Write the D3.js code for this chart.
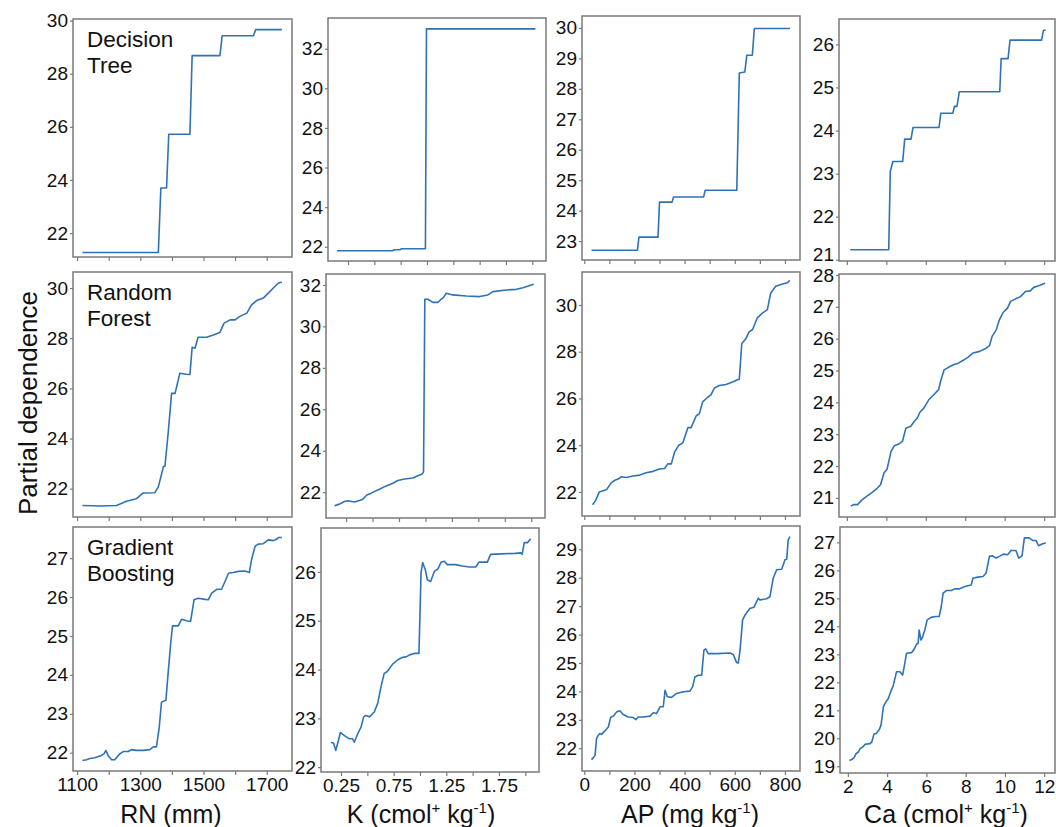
<!DOCTYPE html>
<html><head><meta charset="utf-8">
<script src="https://cdn.jsdelivr.net/npm/d3@7"></script>
<style>body{margin:0;background:#fff}svg{display:block;font-family:"Liberation Sans",Arial,sans-serif}</style>
</head><body><svg id="c" width="1056" height="827"></svg>
<script>
// ---------- categories / tick labels ----------
const models = [["Decision","Tree"],["Random","Forest"],["Gradient","Boosting"]];
const features = ["RN", "K", "AP", "Ca"];
const rnTicks = [1100,1200,1300,1400,1500,1600,1700];
const rnLabels = [1100,1300,1500,1700];
const kTicks = [0.25,0.5,0.75,1,1.25,1.5,1.75,2];
const kLabels = [0.25,0.75,1.25,1.75];
const apTicks = [0,100,200,300,400,500,600,700,800];
const apLabels = [0,200,400,600,800];
const caTicks = [2,4,6,8,10,12];
const caLabels = [2,4,6,8,10,12];

const yTicksDT = [[22,24,26,28,30],[22,24,26,28,30,32],[23,24,25,26,27,28,29,30],[21,22,23,24,25,26]];
const yTicksRF = [[22,24,26,28,30],[22,24,26,28,30,32],[22,24,26,28,30],[21,22,23,24,25,26,27,28]];
const yTicksGB = [[22,23,24,25,26,27],[22,23,24,25,26],[22,23,24,25,26,27,28,29],[19,20,21,22,23,24,25,26,27]];

// ---------- series: Decision Tree ----------
const rnX_dt = [1117,1357,1365,1383,1390,1457,1464,1552,1559,1658,1665,1748];
const rnY_dt = [21.27,21.27,23.7,23.7,25.72,25.72,28.68,28.68,29.43,29.43,29.66,29.66];
const kX_dt = [0.146,0.67,0.69,0.74,0.76,0.985,0.995,2.03];
const kY_dt = [21.8,21.8,21.85,21.85,21.9,21.9,33.0,33.0];
const apX_dt = [29,212,218,294,300,350,356,476,482,608,618,640,648,670,678,820];
const apY_dt = [22.7,22.7,23.13,23.13,24.28,24.28,24.45,24.45,24.67,24.67,28.52,28.55,29.1,29.1,29.98,29.98];
const caX_dt = [2.17,4.12,4.2,4.33,4.83,4.93,5.25,5.35,6.67,6.76,7.37,7.45,7.58,7.7,9.75,9.82,10.17,10.27,11.87,11.97,12.08];
const caY_dt = [21.23,21.23,23.05,23.28,23.28,23.8,23.8,24.07,24.07,24.4,24.4,24.56,24.56,24.9,24.9,25.67,25.67,26.1,26.1,26.33,26.33];

// ---------- series: Random Forest ----------
const rnX_rf = [1117,1172,1225,1256,1288,1309,1346,1357,1365,1373,1378,1388,1399,1410,1425,1446,1457,1464,1473,1483,1510,1531,1552,1565,1584,1600,1615,1637,1652,1668,1689,1705,1721,1737,1748];
const rnY_rf = [21.33,21.31,21.33,21.5,21.6,21.83,21.84,22.07,22.47,22.87,22.9,24.2,25.8,25.8,26.6,26.56,26.55,27.64,27.6,28.04,28.04,28.13,28.23,28.6,28.73,28.73,28.87,29.0,29.33,29.5,29.6,29.8,30.0,30.2,30.23];
const kX_rf = [0.14,0.187,0.234,0.266,0.329,0.376,0.408,0.446,0.487,0.565,0.629,0.692,0.739,0.802,0.881,0.928,0.969,0.982,0.994,1.023,1.07,1.117,1.149,1.171,1.196,1.259,1.386,1.512,1.59,1.638,1.764,1.859,1.922,2.023];
const kY_rf = [21.34,21.42,21.55,21.58,21.52,21.6,21.66,21.86,21.95,22.14,22.3,22.43,22.56,22.63,22.68,22.79,22.87,22.99,31.31,31.31,31.16,31.16,31.31,31.4,31.6,31.52,31.47,31.44,31.52,31.68,31.76,31.79,31.87,32.03];
const apX_rf = [33,46,60,75,89,108,122,135,148,168,194,221,247,274,300,320,333,347,360,377,393,413,426,446,459,472,492,505,519,538,565,591,611,618,628,644,657,671,690,710,730,743,763,790,810,819];
const apY_rf = [21.45,21.65,22.0,22.05,22.1,22.4,22.5,22.55,22.65,22.62,22.68,22.72,22.82,22.88,22.98,23.0,23.2,23.2,23.7,24.0,24.1,24.75,24.75,25.25,25.35,25.85,26.05,26.15,26.45,26.55,26.6,26.7,26.8,26.82,28.35,28.55,28.85,28.95,29.45,29.65,29.8,30.5,30.8,30.9,30.95,31.05];
const caX_rf = [2.2,2.33,2.55,2.75,3.0,3.25,3.5,3.71,3.88,4.04,4.24,4.41,4.66,4.82,4.99,5.24,5.41,5.57,5.7,5.9,6.15,6.4,6.65,6.77,6.93,7.15,7.4,7.65,7.9,8.15,8.4,8.73,9.06,9.23,9.36,9.56,9.73,9.92,10.14,10.3,10.55,10.8,11.05,11.3,11.47,11.72,12.05];
const caY_rf = [20.74,20.79,20.79,20.93,21.05,21.16,21.28,21.42,21.78,21.91,22.46,22.64,22.7,22.78,23.19,23.25,23.4,23.51,23.69,23.82,24.08,24.24,24.4,24.71,25.02,25.1,25.18,25.23,25.32,25.42,25.55,25.6,25.7,25.78,26.07,26.26,26.59,26.82,26.96,27.17,27.25,27.32,27.48,27.5,27.61,27.66,27.74];

// ---------- series: Gradient Boosting ----------
const rnX_gb = [1117,1130,1140,1156,1167,1177,1185,1191,1198,1209,1219,1235,1246,1262,1272,1288,1309,1330,1341,1351,1360,1367,1381,1388,1396,1402,1420,1431,1446,1459,1470,1483,1505,1515,1526,1542,1557,1568,1579,1594,1610,1631,1645,1652,1663,1673,1689,1705,1721,1732,1737,1748];
const rnY_gb = [21.8,21.82,21.85,21.87,21.9,21.93,21.97,22.06,21.93,21.82,21.82,21.97,22.03,22.03,22.08,22.06,22.06,22.08,22.15,22.15,22.66,23.3,23.35,24.04,24.8,25.26,25.26,25.43,25.39,25.37,25.93,25.97,25.94,25.93,26.1,26.2,26.2,26.4,26.61,26.63,26.66,26.67,26.63,26.96,27.3,27.36,27.37,27.47,27.45,27.49,27.53,27.53];
const kX_gb = [0.155,0.18,0.2,0.22,0.244,0.266,0.3,0.33,0.36,0.376,0.41,0.44,0.465,0.487,0.52,0.566,0.6,0.63,0.66,0.69,0.74,0.79,0.835,0.87,0.9,0.946,0.99,1.01,1.025,1.05,1.07,1.1,1.136,1.17,1.2,1.23,1.26,1.34,1.4,1.47,1.53,1.56,1.64,1.67,1.77,1.9,1.96,1.97,1.99,2.02,2.05];
const kY_gb = [22.51,22.49,22.34,22.5,22.71,22.67,22.62,22.58,22.58,22.51,22.69,22.82,23.03,23.06,23.03,23.13,23.32,23.65,23.92,23.96,24.11,24.2,24.25,24.26,24.3,24.33,24.33,25.98,26.19,26.05,25.84,25.8,26.01,26.06,26.2,26.22,26.15,26.15,26.12,26.1,26.1,26.2,26.2,26.36,26.37,26.38,26.39,26.36,26.6,26.6,26.68];
const apX_gb = [29,36,43,49,56,62,69,82,96,105,116,129,142,155,175,195,206,215,235,262,275,288,302,315,322,331,348,368,395,421,432,441,454,468,477,484,494,528,581,594,607,614,621,631,641,660,676,694,700,727,740,753,767,787,800,807,813,820];
const apY_gb = [21.6,21.67,21.75,22.34,22.46,22.52,22.49,22.61,22.75,23.08,23.13,23.28,23.32,23.19,23.1,23.08,23.01,23.1,23.1,23.13,23.25,23.22,23.46,23.46,24.04,23.81,23.79,23.93,23.99,24.01,24.16,24.51,24.57,24.57,25.45,25.5,25.33,25.33,25.35,25.3,25.02,25.0,25.45,26.51,26.69,26.92,26.96,27.28,27.22,27.26,27.33,27.98,28.28,28.3,28.63,28.65,29.33,29.45];
const caX_gb = [2.08,2.2,2.32,2.42,2.54,2.62,2.76,2.88,3.13,3.22,3.33,3.44,3.6,3.69,3.81,3.94,4.06,4.18,4.31,4.48,4.65,4.79,4.9,4.99,5.24,5.36,5.5,5.58,5.63,5.72,5.8,5.92,6.04,6.26,6.51,6.65,6.76,6.85,7.02,7.27,7.44,7.69,7.86,8.11,8.28,8.37,8.62,8.88,9.04,9.21,9.38,9.55,9.72,9.92,10.14,10.31,10.56,10.7,10.87,10.99,11.24,11.41,11.58,11.71,11.92,12.08];
const caY_gb = [19.21,19.24,19.31,19.45,19.51,19.63,19.69,19.79,19.81,19.87,20.15,20.17,20.31,20.47,21.13,21.3,21.42,21.66,21.88,22.38,22.38,22.26,22.68,23.04,23.06,23.16,23.37,23.39,23.87,23.51,23.61,23.87,24.23,24.33,24.35,24.35,24.71,25.19,25.28,25.28,25.34,25.34,25.4,25.45,25.48,25.72,25.76,25.78,25.9,26.5,26.52,26.44,26.5,26.58,26.56,26.71,26.71,26.44,26.52,27.16,27.16,27.07,27.07,26.88,26.95,26.98];

// ---------- layout (pixel frames, domains) ----------
const frames = [
  [[73,19,292,257],[328,18,546,261],[582,16,800,260],[839,19,1055,261]],
  [[73,272,292,517],[326,274,545,518],[582,272,800,516],[839,274,1055,517]],
  [[73,527,292,771],[321,528,539,772],[582,526,800,771],[840,527,1055,773]]
];
const xDomains = [[1087,1780],[0.06,2.13],[-9,860],[1.6,12.55]];
const yDomains = [
  [[21.1,30.06],[21.28,33.55],[22.38,30.39],[20.97,26.59]],
  [[20.87,30.64],[20.75,32.53],[20.97,31.41],[20.4,28.03]],
  [[21.53,27.8],[21.9,26.9],[21.2,29.82],[18.76,27.55]]
];
// label nudges where the reference shifts a crowded tick label
const labelNudges = [{r:0, c:3, v:21, dy:-5}];

const series = [
  [[rnX_dt,rnY_dt],[kX_dt,kY_dt],[apX_dt,apY_dt],[caX_dt,caY_dt]],
  [[rnX_rf,rnY_rf],[kX_rf,kY_rf],[apX_rf,apY_rf],[caX_rf,caY_rf]],
  [[rnX_gb,rnY_gb],[kX_gb,kY_gb],[apX_gb,apY_gb],[caX_gb,caY_gb]]
];
const yTicks = [yTicksDT, yTicksRF, yTicksGB];
const xTicks = [rnTicks,kTicks,apTicks,caTicks];
const xLabels = [rnLabels,kLabels,apLabels,caLabels];
const xFormats = [d3.format("d"), d3.format(".2f"), d3.format("d"), d3.format("d")];

const LINE = "#2f72b6", FRAME = "#7a7a7a", TXT = "#111";
const svg = d3.select("#c");
svg.append("rect").attr("width",1056).attr("height",827).attr("fill","#fff");

for (let r = 0; r < 3; r++) {
  for (let c = 0; c < 4; c++) {
    const [x0,y0,x1,y1] = frames[r][c];
    const x = d3.scaleLinear().domain(xDomains[c]).range([x0,x1]);
    const y = d3.scaleLinear().domain(yDomains[r][c]).range([y1,y0]);
    const g = svg.append("g");

    const ya = d3.axisLeft(y).tickValues(yTicks[r][c]).tickSize(3).tickPadding(2).tickFormat(d3.format("d"));
    const gy = g.append("g").attr("transform",`translate(${x0},0)`).call(ya);
    const labs = xLabels[c];
    const xa = d3.axisBottom(x).tickValues(xTicks[c]).tickSize(4).tickPadding(3)
      .tickFormat(d => (r === 2 && labs.some(v => Math.abs(v-d) < 1e-9)) ? xFormats[c](d) : "");
    const gx = g.append("g").attr("transform",`translate(0,${y1})`).call(xa);
    [gy,gx].forEach(a => {
      a.select(".domain").remove();
      a.selectAll(".tick line").attr("stroke",FRAME).attr("stroke-width",1.2);
      a.selectAll(".tick text").attr("fill",TXT).style("font-size","19px").style("font-family",'"Liberation Sans",Arial,sans-serif');
    });
    labelNudges.filter(n => n.r === r && n.c === c).forEach(n => {
      gy.selectAll(".tick").filter(d => d === n.v).select("text")
        .attr("transform", `translate(0,${n.dy})`);
    });

    const [xs, ys] = series[r][c];
    const pts = xs.map((v,i) => [v, ys[i]]);
    g.append("path").datum(pts)
      .attr("fill","none").attr("stroke",LINE).attr("stroke-width",1.6).attr("stroke-linejoin","round")
      .attr("d", d3.line().x(d => x(d[0])).y(d => y(d[1])));

    g.append("rect").attr("x",x0).attr("y",y0).attr("width",x1-x0).attr("height",y1-y0)
      .attr("fill","none").attr("stroke",FRAME).attr("stroke-width",1.5);

    if (c === 0) {
      const t = g.append("text").attr("x",x0+14).attr("y",y0+28).attr("fill",TXT).style("font-size","22.5px");
      t.append("tspan").attr("x",x0+14).text(models[r][0]);
      t.append("tspan").attr("x",x0+14).attr("dy",26).text(models[r][1]);
    }
  }
}

// axis titles
const titleX = [171, 421, 690, 946];
const titleY = 823;
function title(xc, parts) {
  const t = svg.append("text").attr("x",xc).attr("y",titleY).attr("text-anchor","middle")
    .attr("fill",TXT).style("font-size","25px");
  parts.forEach(p => {
    const s = t.append("tspan").text(p.t);
    if (p.sup) s.attr("dy",-10).style("font-size","15px");
    if (p.down) s.attr("dy",10);
  });
}
title(titleX[0], [{t:"RN (mm)"}]);
title(titleX[1], [{t:"K (cmol"},{t:"+",sup:true},{t:" kg",down:true},{t:"-1",sup:true},{t:")",down:true}]);
title(titleX[2], [{t:"AP (mg kg"},{t:"-1",sup:true},{t:")",down:true}]);
title(titleX[3], [{t:"Ca (cmol"},{t:"+",sup:true},{t:" kg",down:true},{t:"-1",sup:true},{t:")",down:true}]);

svg.append("text").attr("transform","translate(37,403) rotate(-90)").attr("text-anchor","middle")
  .attr("fill",TXT).style("font-size","26px").text("Partial dependence");
</script></body></html>
